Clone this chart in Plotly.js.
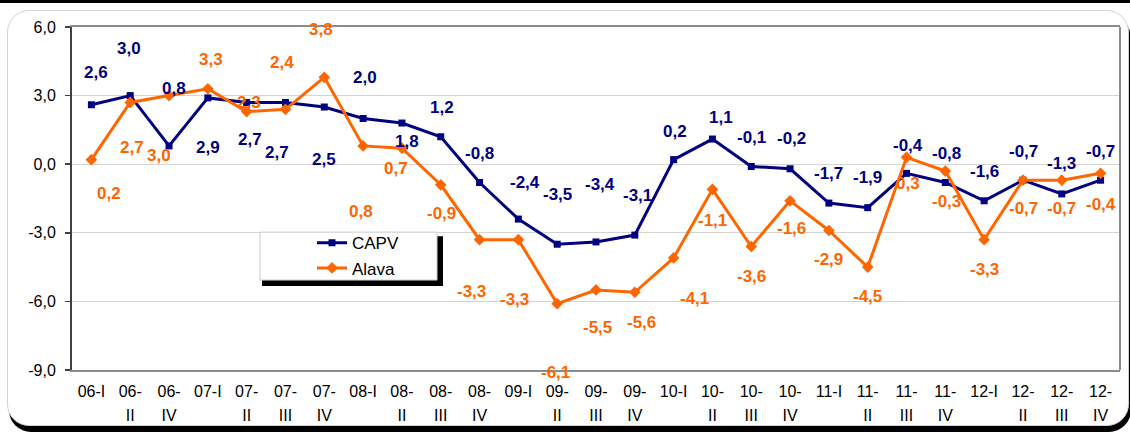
<!DOCTYPE html>
<html>
<head>
<meta charset="utf-8">
<script src="https://cdn.plot.ly/plotly-3.0.1.min.js"></script>
<style>
  html, body { margin: 0; padding: 0; background: #ffffff; }
  #wrap { position: relative; width: 1130px; height: 434px; overflow: hidden; background: #ffffff; }
  #topbar { position: absolute; left: 0; top: 0; width: 1130px; height: 3px; background: #000; }
  #frame { position: absolute; left: 7px; top: 10px; width: 1120px; height: 414px;
           border: 1.5px solid #d2d2d2; border-radius: 22px; background: #fff;
           box-shadow: 2px 6px 0 0 #000; }
  #chart { position: absolute; left: 0; top: 0; width: 1130px; height: 434px; }
</style>
</head>
<body>
<div id="wrap">
  <div id="topbar"></div>
  <div id="frame"></div>
  <div id="chart"></div>
</div>
<script>
// ---- data ----
const categories = ['06-I','06-II','06-IV','07-I','07-II','07-III','07-IV','08-I','08-II','08-III','08-IV',
                    '09-I','09-II','09-III','09-IV','10-I','10-II','10-III','10-IV','11-I','11-II','11-III',
                    '11-IV','12-I','12-II','12-III','12-IV'];
const capv  = [2.6, 3.0, 0.8, 2.9, 2.7, 2.7, 2.5, 2.0, 1.8, 1.2, -0.8, -2.4, -3.5, -3.4, -3.1,
               0.2, 1.1, -0.1, -0.2, -1.7, -1.9, -0.4, -0.8, -1.6, -0.7, -1.3, -0.7];
const alava = [0.2, 2.7, 3.0, 3.3, 2.3, 2.4, 3.8, 0.8, 0.7, -0.9, -3.3, -3.3, -6.1, -5.5, -5.6,
               -4.1, -1.1, -3.6, -1.6, -2.9, -4.5, 0.3, -0.3, -3.3, -0.7, -0.7, -0.4];
const yTickValues = [-9, -6, -3, 0, 3, 6];
const seriesNames = ['CAPV', 'Alava'];

// ---- label placement (pixel offsets, style only) ----
const capvDx  = [5, -1, 5, 0, 3, -8, 0, 2, 5, 1, 0, 7, 0, 4, 3, 1, 9, 0, 1, 0, 0, 1, 1, 0, 1, 0, 0];
const capvDy  = [32, 47, 57, -50, -37, -50, -52, 41, -18, 29, 29, 37, 50, 57, 40, 28, 22, 29, 30, 30, 30, 28, 29, 29, 29, 30, 29];
const alavaDx = [18, 2, -10, 3, 2, -3, -3, -2, -6, 1, -8, -4, -2, 1, 7, 21, 0, 0, 1, 0, 0, 1, 1, 0, 1, 0, 0];
const alavaDy = [-34, -45, -60, 29, 9, 47, 48, -66, -20, -29, -52, -60, -69, -38, -30, -41, -31, -30, -28, -29, -29, -26, -30, -30, -28, -28, -31];

const FONT = 'Arial, "Liberation Sans", sans-serif';
const NAVY = '#000080';
const ORANGE = '#FF6600';

const fmt = v => v.toFixed(1).replace('.', ',');

// split tick labels the way they wrap in the original
const line1 = categories.map(c => /-I$/.test(c) ? c : c.slice(0, c.indexOf('-') + 1));
const line2 = categories.map(c => /-I$/.test(c) ? '' : c.slice(c.indexOf('-') + 1));
const idx = categories.map((c, i) => i);

const traces = [
  { type: 'scatter', mode: 'lines+markers', name: seriesNames[0], x: categories, y: capv,
    line: { color: NAVY, width: 3 }, marker: { symbol: 'square', size: 7, color: NAVY },
    hoverinfo: 'skip' },
  { type: 'scatter', mode: 'lines+markers', name: seriesNames[1], x: categories, y: alava,
    line: { color: ORANGE, width: 3 }, marker: { symbol: 'diamond', size: 9, color: ORANGE },
    hoverinfo: 'skip' },
  // empty helper trace so the second-line tick-label axis is drawn
  { type: 'scatter', mode: 'markers', x: [null], y: [null], xaxis: 'x3', yaxis: 'y',
    showlegend: false, hoverinfo: 'skip' }
];

const annotations = [];
capv.forEach((v, i) => annotations.push({
  x: categories[i], y: v, xref: 'x', yref: 'y', text: '<b>' + fmt(v) + '</b>', showarrow: false,
  xshift: capvDx[i], yshift: capvDy[i], font: { family: FONT, size: 17, color: NAVY }
}));
alava.forEach((v, i) => annotations.push({
  x: categories[i], y: v, xref: 'x', yref: 'y', text: '<b>' + fmt(v) + '</b>', showarrow: false,
  xshift: alavaDx[i], yshift: alavaDy[i], font: { family: FONT, size: 17, color: ORANGE }
}));

const layout = {
  width: 1130, height: 434,
  margin: { l: 72, r: 10, t: 27, b: 64, pad: 0 },
  paper_bgcolor: 'rgba(0,0,0,0)',
  plot_bgcolor: '#ffffff',
  font: { family: FONT, color: '#000' },
  showlegend: true,
  legend: {
    x: 0.229, y: 0.422, xanchor: 'left', yanchor: 'top',
    bgcolor: 'rgba(0,0,0,0)', borderwidth: 0,
    font: { family: FONT, size: 17, color: '#000' }
  },
  xaxis: {
    type: 'category', categoryorder: 'array', categoryarray: categories,
    range: [-0.5, categories.length - 0.5],
    showgrid: false, zeroline: false,
    showline: true, linecolor: '#8c8c8c', linewidth: 2, mirror: true,
    ticks: '', tickmode: 'array', tickvals: categories, ticktext: line1,
    tickangle: 0, ticklabelstandoff: 6,
    tickfont: { family: FONT, size: 16, color: '#000' },
    fixedrange: true
  },
  xaxis2: {
    overlaying: 'x', anchor: 'y', range: [-0.5, categories.length - 0.5],
    tick0: 3.5, dtick: 4, showgrid: true, gridcolor: '#d4d4d4', gridwidth: 1,
    showticklabels: false, ticks: '', showline: false, zeroline: false, fixedrange: true
  },
  xaxis3: {
    overlaying: 'x', anchor: 'y', side: 'bottom', range: [-0.5, categories.length - 0.5],
    tickmode: 'array', tickvals: idx, ticktext: line2, showgrid: false, ticks: '',
    showline: false, zeroline: false, tickangle: 0, ticklabelstandoff: 34,
    ticklabeloverflow: 'allow',
    tickfont: { family: FONT, size: 16, color: '#000' }, fixedrange: true
  },
  yaxis: {
    range: [-9, 6], tickmode: 'array', tickvals: yTickValues, ticktext: yTickValues.map(fmt),
    showgrid: true, gridcolor: '#d4d4d4', gridwidth: 1, zeroline: false,
    showline: true, linecolor: '#404040', linewidth: 2,
    ticks: 'outside', ticklen: 5, tickwidth: 1.5, tickcolor: '#404040',
    ticklabelstandoff: 6,
    tickfont: { family: FONT, size: 16, color: '#000' }, fixedrange: true
  },
  shapes: [
    { type: 'line', xref: 'paper', yref: 'paper', x0: 1, x1: 1, y0: 0, y1: 1,
      line: { color: '#8c8c8c', width: 2 } },
    { type: 'rect', xref: 'paper', yref: 'paper', layer: 'above',
      x0: 0.1813, x1: 0.3540, y0: 0.2447, y1: 0.3903,
      fillcolor: '#000', line: { width: 0 } },
    { type: 'rect', xref: 'paper', yref: 'paper', layer: 'above',
      x0: 0.1794, x1: 0.3483, y0: 0.2622, y1: 0.4020,
      fillcolor: '#fff', line: { color: '#c8c8c8', width: 1 } }
  ],
  annotations: annotations,
  hovermode: false
};

Plotly.newPlot('chart', traces, layout, { displayModeBar: false, staticPlot: true });
</script>
</body>
</html>
